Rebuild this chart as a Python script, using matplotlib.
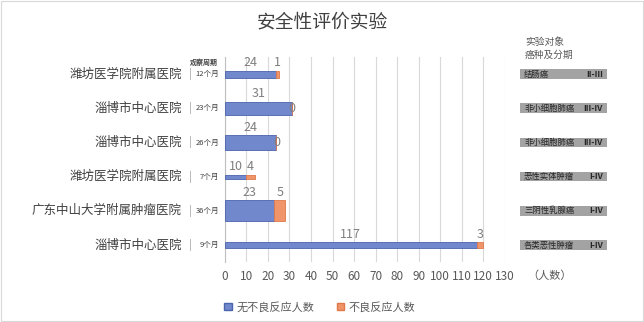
import matplotlib
matplotlib.use('Agg')
import matplotlib.pyplot as plt
import matplotlib.transforms as mtransforms
from matplotlib.patches import Rectangle
import numpy as np

plt.rcParams['font.family'] = ['Noto Sans CJK SC', 'DejaVu Sans']

# data, top row first
hospitals = ['潍坊医学院附属医院', '淄博市中心医院', '淄博市中心医院',
             '潍坊医学院附属医院', '广东中山大学附属肿瘤医院', '淄博市中心医院']
periods = [12, 23, 26, 7, 36, 9]
period_labels = ['12个月', '23个月', '26个月', '7个月', '36个月', '9个月']
no_adverse = [24, 31, 24, 10, 23, 117]
adverse = [1, 0, 0, 4, 5, 3]
cancers = ['结肠癌', '非小细胞肺癌', '非小细胞肺癌', '恶性实体肿瘤', '三阴性乳腺癌', '各类恶性肿瘤']
stages = ['II-III', 'III-IV', 'III-IV', 'I-IV', 'I-IV', 'I-IV']
xticks = list(range(0, 131, 10))

blue = '#7189cc'
orange = '#f0956a'
grey_txt = '#595959'

fig = plt.figure(figsize=(6.44, 3.22), dpi=100)
ax = fig.add_axes([0.349, 0.186, 0.435, 0.637])

y = np.arange(len(hospitals))
# bar thickness follows the observation period
h = np.array(periods) * 0.017
ax.barh(y, no_adverse, height=h, color=blue, edgecolor='#4a64ad', linewidth=0.6, zorder=3)
ax.barh(y, adverse, left=no_adverse, height=h, color=orange, edgecolor='#e0784a', linewidth=0.6, zorder=3)

# data labels
for i in range(len(y)):
    for left, val in [(0, no_adverse[i]), (no_adverse[i], adverse[i])]:
        cx = left + val / 2
        if val == 0:
            ax.text(cx, y[i], '0', ha='center', va='center', fontsize=9, color='#7f7f7f', zorder=4)
        else:
            ax.text(cx, y[i] - h[i] / 2 - 0.04, str(val), ha='center', va='bottom',
                    fontsize=9, color='#7f7f7f', zorder=4)

ax.set_xlim(0, 130)
ax.set_ylim(len(y) - 0.5, -0.5)
ax.set_xticks(xticks)
ax.tick_params(axis='x', length=0, labelsize=8.5, labelcolor=grey_txt, pad=6)
ax.set_yticks([])
ax.grid(axis='x', color='#d9d9d9', linewidth=0.8, zorder=0)
for s in ['top', 'right', 'bottom']:
    ax.spines[s].set_visible(False)
ax.spines['left'].set_color('#bfbfbf')

tr = mtransforms.blended_transform_factory(fig.transFigure, ax.transData)
for i in range(len(y)):
    ax.text(182 / 644, y[i], hospitals[i], transform=tr, ha='right', va='center',
            fontsize=9, color='#404040', clip_on=False)
    ax.text(190 / 644, y[i], '|', transform=tr, ha='center', va='center',
            fontsize=8, color='#a6a6a6', clip_on=False)
    ax.text(219 / 644, y[i], period_labels[i], transform=tr, ha='right', va='center',
            fontsize=5.5, color='#404040', clip_on=False)
    ax.add_patch(Rectangle((520 / 644, y[i] - 0.14), 87 / 644, 0.28, transform=tr,
                           facecolor='#a3a3a3', edgecolor='none', clip_on=False))
    ax.text(524 / 644, y[i], cancers[i], transform=tr, ha='left', va='center',
            fontsize=6, color='#262626', clip_on=False)
    ax.text(603 / 644, y[i], stages[i], transform=tr, ha='right', va='center',
            fontsize=6, color='#262626', fontweight='bold', clip_on=False)

fig.text(218 / 644, 1 - 62 / 322, '观察周期', ha='right', va='center', fontsize=5,
         color='#404040', fontweight='bold')
fig.text(525 / 644, 1 - 42 / 322, '实验对象', ha='left', va='center', fontsize=7, color=grey_txt)
fig.text(525 / 644, 1 - 55 / 322, '癌种及分期', ha='left', va='center', fontsize=7, color=grey_txt)
fig.text(527 / 644, 1 - 276 / 322, '（人数）', ha='left', va='center', fontsize=8, color=grey_txt)

fig.text(322 / 644, 1 - 22 / 322, '安全性评价实验', ha='center', va='center', fontsize=13.5, color='#404040')

leg = fig.legend(handles=[Rectangle((0, 0), 1, 1, facecolor=blue, edgecolor='#4a64ad'),
                          Rectangle((0, 0), 1, 1, facecolor=orange, edgecolor='#e0784a')],
                 labels=['无不良反应人数', '不良反应人数'], loc='center',
                 bbox_to_anchor=(320 / 644, 1 - 307 / 322), ncol=2, frameon=False,
                 fontsize=8, handlelength=0.7, handleheight=0.7, columnspacing=2.0,
                 handletextpad=0.4)
for t in leg.get_texts():
    t.set_color(grey_txt)

fig.patches.append(Rectangle((0.002, 0.003), 0.996, 0.994, transform=fig.transFigure,
                             fill=False, edgecolor='#d9d9d9', linewidth=0.8))

fig.savefig('out.png', dpi=100)
